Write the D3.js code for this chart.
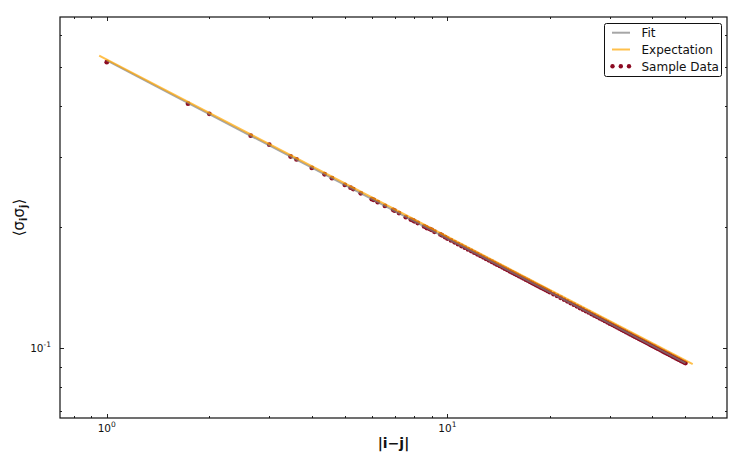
<!DOCTYPE html>
<html>
<head>
<meta charset="utf-8">
<script src="https://cdn.jsdelivr.net/npm/d3@7"></script>
<style>
  body { margin: 0; background: #fff; }
  svg { display: block; font-family: "DejaVu Sans", sans-serif; }
</style>
</head>
<body>
<div id="chart"></div>
<script>
// sample data: distances |i-j| and measured correlations
var sampleX = [1, 1.732, 2, 2.646, 3, 3.464, 3.606, 4, 4.359, 4.583, 5, 5.196, 5.292, 5.568, 6, 6.083, 6.245, 6.557, 6.928, 7, 7.211, 7.550, 7.810, 7.937,
  8, 8.185, 8.544, 8.660, 8.718, 8.888, 9, 9.165, 9.539, 9.644, 9.849, 10,
  10.25, 10.5, 10.75, 11, 11.25, 11.5, 11.75, 12, 12.25, 12.5, 12.75, 13, 13.25, 13.5, 13.75, 14, 14.25, 14.5, 14.75, 15,
  15.25, 15.5, 15.75, 16, 16.25, 16.5, 16.75, 17, 17.25, 17.5, 17.75, 18, 18.25, 18.5, 18.75, 19, 19.25, 19.5, 19.75, 20,
  20.5, 21, 21.5, 22, 22.5, 23, 23.5, 24, 24.5, 25, 25.5, 26, 26.5, 27, 27.5, 28, 28.5, 29, 29.5, 30,
  30.5, 31, 31.5, 32, 32.5, 33, 33.5, 34, 34.5, 35, 35.5, 36, 36.5, 37, 37.5, 38, 38.5, 39, 39.5, 40,
  40.5, 41, 41.5, 42, 42.5, 43, 43.5, 44, 44.5, 45, 45.5, 46, 46.5, 47, 47.5, 48, 48.5, 49, 49.5, 50];
var sampleY = [0.515, 0.406, 0.383, 0.338, 0.321, 0.300, 0.295, 0.281, 0.271, 0.265, 0.255, 0.251, 0.249, 0.243, 0.235, 0.234, 0.231, 0.226, 0.221, 0.220, 0.217, 0.212, 0.209, 0.208,
  0.207, 0.205, 0.201, 0.200, 0.199, 0.198, 0.197, 0.195, 0.192, 0.191, 0.189, 0.1875,
  0.1855, 0.1835, 0.1816, 0.1797, 0.1780, 0.1762, 0.1746, 0.1730, 0.1714, 0.1699, 0.1684, 0.1669, 0.1655, 0.1642, 0.1628, 0.1615, 0.1603, 0.1590, 0.1578, 0.1567,
  0.1555, 0.1544, 0.1533, 0.1523, 0.1512, 0.1502, 0.1492, 0.1482, 0.1473, 0.1463, 0.1454, 0.1445, 0.1436, 0.1428, 0.1419, 0.1411, 0.1403, 0.1395, 0.1387, 0.1379,
  0.1364, 0.1350, 0.1336, 0.1322, 0.1309, 0.1296, 0.1284, 0.1272, 0.1260, 0.1249, 0.1238, 0.1228, 0.1217, 0.1207, 0.1198, 0.1188, 0.1179, 0.1170, 0.1161, 0.1152,
  0.1144, 0.1136, 0.1128, 0.1120, 0.1112, 0.1105, 0.1097, 0.1090, 0.1083, 0.1076, 0.1069, 0.1063, 0.1056, 0.1050, 0.1044, 0.1038, 0.1032, 0.1026, 0.1020, 0.1014,
  0.1009, 0.1003, 0.0998, 0.0993, 0.0987, 0.0982, 0.0977, 0.0972, 0.0968, 0.0963, 0.0958, 0.0953, 0.0949, 0.0944, 0.0940, 0.0936, 0.0931, 0.0927, 0.0923, 0.0919];

// fitted power law (straight on log-log), end points
var fitX = [1, 50];
var fitY = [0.520, 0.0919];

// expected power law, end points
var expX = [0.95, 52.5];
var expY = [0.5344, 0.0914];

// ticks
var xMajor = [1, 10];
var xMajorLabels = ["0", "1"];
var xMinor = [0.8, 0.9, 2, 3, 4, 5, 6, 7, 8, 9, 20, 30, 40, 50, 60];
var yMajor = [0.1];
var yMajorLabels = ["-1"];
var yMinor = [0.07, 0.08, 0.09, 0.2, 0.3, 0.4, 0.5, 0.6];

var legendNames = ["Fit", "Expectation", "Sample Data"];

var W = 747, H = 467;
var margin = {top: 17, right: 20, bottom: 49, left: 60};

var svg = d3.select('#chart').append('svg')
  .attr('width', W)
  .attr('height', H);

var x = d3.scaleLog().domain([0.729, 66.2]).range([margin.left, W - margin.right]);
var y = d3.scaleLog().domain([0.0671, 0.667]).range([H - margin.bottom, margin.top]);

var red = '#8c0a22';
var orange = 'rgba(255,165,0,0.7)';
var gray = 'rgba(128,128,128,0.7)';

// scatter first, lines drawn over it
var pts = sampleX.map(function(v, i) { return [v, sampleY[i]]; });
svg.append('g').selectAll('circle')
  .data(pts)
  .enter()
  .append('circle')
  .attr('cx', d => x(d[0]))
  .attr('cy', d => y(d[1]))
  .attr('r', 2.4)
  .attr('fill', red);

var line = d3.line().x(d => x(d[0])).y(d => y(d[1]));

svg.append('path')
  .attr('d', line(fitX.map((v, i) => [v, fitY[i]])))
  .attr('fill', 'none')
  .attr('stroke', gray)
  .attr('stroke-width', 2);

svg.append('path')
  .attr('d', line(expX.map((v, i) => [v, expY[i]])))
  .attr('fill', 'none')
  .attr('stroke', orange)
  .attr('stroke-width', 2);

// axes, ticks point inward on all four sides
var x0 = margin.left, x1 = W - margin.right, y0 = margin.top, y1 = H - margin.bottom;

var ax = svg.append('g');
function tickMarks(g, vals, len, horiz) {
  vals.forEach(function(v) {
    if (horiz) {
      var px = Math.round(x(v)) + 0.5;
      g.append('line').attr('x1', px).attr('x2', px).attr('y1', y1).attr('y2', y1 - len);
      g.append('line').attr('x1', px).attr('x2', px).attr('y1', y0).attr('y2', y0 + len);
    } else {
      var py = Math.round(y(v)) + 0.5;
      g.append('line').attr('y1', py).attr('y2', py).attr('x1', x0).attr('x2', x0 + len);
      g.append('line').attr('y1', py).attr('y2', py).attr('x1', x1).attr('x2', x1 - len);
    }
  });
}
ax.attr('stroke', '#222').attr('stroke-width', 1);
tickMarks(ax, xMajor, 4, true);
tickMarks(ax, xMinor, 2, true);
tickMarks(ax, yMajor, 4, false);
tickMarks(ax, yMinor, 2, false);

svg.append('rect')
  .attr('x', x0).attr('y', y0)
  .attr('width', x1 - x0).attr('height', y1 - y0)
  .attr('fill', 'none')
  .attr('stroke', '#111')
  .attr('stroke-width', 1.2);

// tick labels
xMajor.forEach(function(v, i) {
  var t = svg.append('text')
    .attr('x', x(v))
    .attr('y', y1 + 14)
    .attr('text-anchor', 'middle')
    .attr('font-size', 10.5)
    .attr('fill', '#111');
  t.append('tspan').text('10');
  t.append('tspan').attr('dy', -5).attr('font-size', 7.5).text(xMajorLabels[i]);
});
yMajor.forEach(function(v, i) {
  var t = svg.append('text')
    .attr('x', x0 - 9)
    .attr('y', y(v) + 4)
    .attr('text-anchor', 'end')
    .attr('font-size', 10.5)
    .attr('fill', '#111');
  t.append('tspan').text('10');
  t.append('tspan').attr('dy', -5).attr('font-size', 7.5).text(yMajorLabels[i]);
});

// axis labels
svg.append('text')
  .attr('x', (x0 + x1) / 2)
  .attr('y', 448)
  .attr('text-anchor', 'middle')
  .attr('font-size', 14)
  .attr('font-weight', 'bold')
  .attr('fill', '#111')
  .text('|i\u2212j|');

var yl = svg.append('text')
  .attr('transform', 'translate(24,' + ((y0 + y1) / 2) + ') rotate(-90)')
  .attr('text-anchor', 'middle')
  .attr('font-size', 15)
  .attr('fill', '#111');
yl.append('tspan').text('\u27E8\u03C3');
yl.append('tspan').attr('dy', 3).attr('font-size', 10).attr('font-weight', 'bold').text('i');
yl.append('tspan').attr('dy', -3).text('\u03C3');
yl.append('tspan').attr('dy', 3).attr('font-size', 10).attr('font-weight', 'bold').text('j');
yl.append('tspan').attr('dy', -3).text('\u27E9');

// legend
var lg = svg.append('g');
lg.append('rect')
  .attr('x', 604.5).attr('y', 23.5)
  .attr('width', 117).attr('height', 53)
  .attr('rx', 2)
  .attr('fill', '#fff')
  .attr('stroke', '#111')
  .attr('stroke-width', 1);
var rowY = [32.7, 49.5, 66.3];
lg.append('line').attr('x1', 612).attr('x2', 630).attr('y1', rowY[0]).attr('y2', rowY[0])
  .attr('stroke', gray).attr('stroke-width', 2);
lg.append('line').attr('x1', 612).attr('x2', 630).attr('y1', rowY[1]).attr('y2', rowY[1])
  .attr('stroke', orange).attr('stroke-width', 2);
[612.5, 620.8, 629].forEach(function(cx) {
  lg.append('circle').attr('cx', cx).attr('cy', rowY[2]).attr('r', 2.2).attr('fill', red);
});
legendNames.forEach(function(name, i) {
  lg.append('text')
    .attr('x', 641.5)
    .attr('y', rowY[i] + 4.5)
    .attr('font-size', 12)
    .attr('fill', '#111')
    .text(name);
});
</script>
</body>
</html>
